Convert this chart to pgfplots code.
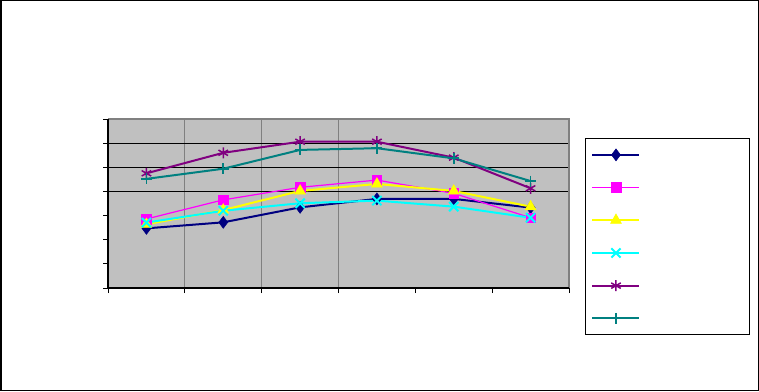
\documentclass[border=0pt]{standalone}
\usepackage{pgfplots}
\pgfplotsset{compat=1.18}
\definecolor{plotbg}{RGB}{192,192,192}
\definecolor{gridg}{RGB}{128,128,128}
\definecolor{cnavy}{RGB}{0,0,128}
\definecolor{cmag}{RGB}{255,0,255}
\definecolor{cyel}{RGB}{255,255,0}
\definecolor{ccyan}{RGB}{0,255,255}
\definecolor{cpur}{RGB}{128,0,128}
\definecolor{cteal}{RGB}{0,128,128}
\begin{document}
\begin{tikzpicture}[x=1pt,y=1pt]
\useasboundingbox (0,0) rectangle (759,391);
\draw[line width=1.5pt] (0.75,0.75) rectangle (758.25,390.25);
\begin{axis}[
  at={(108pt,103pt)}, anchor=south west,
  width=461pt, height=169pt, scale only axis,
  xmin=0, xmax=6, ymin=0, ymax=7,
  xtick={0,...,6}, ytick={0,...,7},
  xticklabels={}, yticklabels={},
  tick align=outside, major tick length=5pt,
  xtick pos=left, ytick pos=left,
  tick style={black, line width=1pt},
  axis line style={draw=none},
  axis background/.style={fill=plotbg},
  extra y ticks={4,5,6}, extra y tick labels={},
  extra y tick style={grid=major, major grid style={black, line width=1pt}, major tick length=0pt},
  extra x ticks={1,2,3}, extra x tick labels={},
  extra x tick style={grid=major, major grid style={gridg, line width=1pt}, major tick length=0pt},
  legend image code/.code={\draw[mark repeat=2,mark phase=2] plot coordinates {(0pt,0pt)(23.5pt,0pt)(47pt,0pt)};},
  legend style={at={(1.3926,0.8876)}, anchor=north east, draw=black, line width=1pt, fill=white,
    inner xsep=6pt, inner ysep=0pt, row sep=0pt, column sep=0pt,
    nodes={inner sep=0pt, minimum height=32.7pt}},
  clip=false,
]
\addplot[cnavy, line width=2pt, mark=diamond*, mark size=6pt, mark options={fill=cnavy, line width=0.5pt}]
  coordinates {(0.5,2.47) (1.5,2.72) (2.5,3.34) (3.5,3.69) (4.5,3.69) (5.5,3.33)};
\addlegendentry{\hspace*{103pt}}
\addplot[cmag, line width=1.2pt, mark=square*, mark size=4.8pt, mark options={fill=cmag, line width=0.5pt}]
  coordinates {(0.5,2.86) (1.5,3.65) (2.5,4.17) (3.5,4.47) (4.5,3.92) (5.5,2.91)};
\addlegendentry{\hspace*{103pt}}
\addplot[cyel, line width=2pt, mark=triangle*, mark size=6.3pt, mark options={fill=cyel, line width=0.5pt}]
  coordinates {(0.5,2.64) (1.5,3.23) (2.5,4.02) (3.5,4.31) (4.5,4.02) (5.5,3.37)};
\addlegendentry{\hspace*{103pt}}
\addplot[ccyan, line width=2pt, mark=x, mark size=6.5pt, mark options={line width=2pt}]
  coordinates {(0.5,2.71) (1.5,3.20) (2.5,3.51) (3.5,3.62) (4.5,3.37) (5.5,2.91)};
\addlegendentry{\hspace*{103pt}}
\addplot[cpur, line width=2pt, mark=asterisk, mark size=5.5pt, mark options={line width=1.5pt}]
  coordinates {(0.5,4.75) (1.5,5.60) (2.5,6.06) (3.5,6.06) (4.5,5.40) (5.5,4.13)};
\addlegendentry{\hspace*{103pt}}
\addplot[cteal, line width=2pt, mark=+, mark size=5.5pt, mark options={line width=1.8pt}]
  coordinates {(0.5,4.52) (1.5,4.94) (2.5,5.72) (3.5,5.79) (4.5,5.37) (5.5,4.43)};
\addlegendentry{\hspace*{103pt}}
\draw[gridg, line width=1.5pt] (rel axis cs:0,1) -- (rel axis cs:1,1) -- (rel axis cs:1,0);
\draw[black, line width=1.5pt] (rel axis cs:0,1) -- (rel axis cs:0,0) -- (rel axis cs:1,0);
\end{axis}
\end{tikzpicture}
\end{document}
